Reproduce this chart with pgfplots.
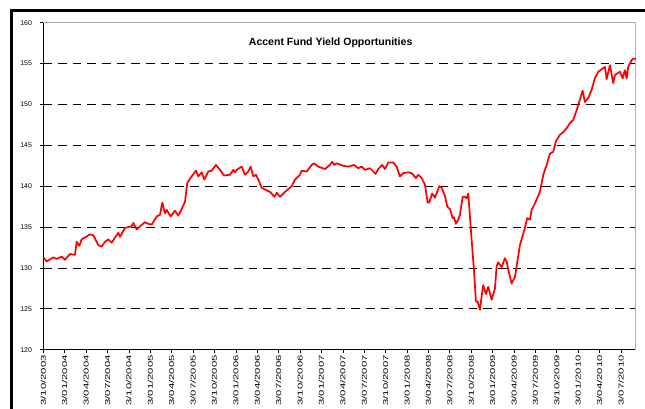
\documentclass[border=0pt]{standalone}
\usepackage{pgfplots}
\pgfplotsset{compat=1.18}
\usepackage{graphicx}
\usepackage{fontspec}
\setmainfont{Liberation Sans}
\newcommand\xl[1]{\scalebox{1.6}[1]{#1}}
\begin{document}
\begin{tikzpicture}
\useasboundingbox (-32.475pt,-43.725pt) rectangle (451.275pt,262.275pt);
\begin{scope}
\clip (-32.475pt,-43.725pt) rectangle (451.275pt,262.275pt);
\draw[line width=2.25pt] (-24.225pt,-60pt) -- (-24.225pt,254.025pt) -- (470pt,254.025pt);
\end{scope}
\begin{axis}[
  at={(0pt,0pt)}, anchor=south west, scale only axis,
  width=444.5pt, height=245.25pt,
  xmin=0, xmax=83.1, ymin=120, ymax=160,
  axis x line*=bottom, axis y line*=left,
  axis line style={-, black, line width=0.6pt},
  xtick={0,3,...,81},
  xticklabels={\xl{3/10/2003},\xl{3/01/2004},\xl{3/04/2004},\xl{3/07/2004},\xl{3/10/2004},\xl{3/01/2005},\xl{3/04/2005},\xl{3/07/2005},\xl{3/10/2005},\xl{3/01/2006},\xl{3/04/2006},\xl{3/07/2006},\xl{3/10/2006},\xl{3/01/2007},\xl{3/04/2007},\xl{3/07/2007},\xl{3/10/2007},\xl{3/01/2008},\xl{3/04/2008},\xl{3/07/2008},\xl{3/10/2008},\xl{3/01/2009},\xl{3/04/2009},\xl{3/07/2009},\xl{3/10/2009},\xl{3/01/2010},\xl{3/04/2010},\xl{3/07/2010}},
  ytick={120,125,...,160},
  extra y ticks={125,130,...,155}, extra y tick labels={},
  extra y tick style={grid=major, major tick length=0pt},
  major grid style={black, line width=0.6pt, dash pattern=on 6.5pt off 4.5pt},
  tick align=outside, major tick length=2.5pt,
  tick style={black, line width=0.5pt},
  yticklabel style={font=\fontsize{5.2}{6}\selectfont, xshift=-2.5pt},
  xticklabel style={rotate=90, anchor=east, font=\fontsize{5.3}{6}\selectfont, inner sep=1.5pt},
  /pgf/number format/assume math mode=true,
]
\draw[gray!70, line width=0.75pt] (rel axis cs:0,1) -- (rel axis cs:1,1);
\draw[gray!60, line width=1.5pt] (rel axis cs:1,1) -- (rel axis cs:1,0);
\addplot[red, line width=1.3pt, line join=round] coordinates {
(0,131.3)(0.48,130.8)(1.40,131.3)(1.88,131.1)(2.58,131.4)(3.04,131.0)(3.74,131.7)(4.44,131.6)
(4.68,133.2)(5.05,132.7)(5.38,133.5)(6.55,134.1)(7.01,134.0)(7.71,132.8)(8.19,132.6)(8.65,133.2)
(9.11,133.5)(9.59,133.1)(10.51,134.3)(10.75,133.8)(11.45,134.9)(12.39,135.1)(12.62,135.5)(13.09,134.7)
(13.56,135.1)(14.26,135.6)(14.72,135.4)(15.20,135.3)(15.90,136.3)(16.36,136.5)(16.68,138.0)(17.06,136.7)
(17.30,137.1)(17.86,136.3)(18.46,137.0)(18.93,136.4)(19.40,137.2)(19.87,138.1)(20.19,140.4)(20.80,141.2)
(21.41,141.9)(21.73,141.2)(22.21,141.7)(22.57,140.8)(23.13,141.8)(23.61,141.9)(24.21,142.6)(24.77,142.0)
(25.33,141.3)(26.17,141.4)(26.64,142.0)(26.87,141.7)(27.11,142.0)(27.81,142.4)(28.28,141.4)(28.74,141.8)
(29.08,142.4)(29.44,141.2)(29.82,141.4)(30.14,140.8)(30.62,139.8)(31.32,139.5)(31.78,139.3)(32.02,139.1)
(32.38,138.7)(32.72,139.2)(33.18,138.7)(33.89,139.3)(34.82,140.0)(35.29,140.8)(35.99,141.4)(36.22,141.9)
(36.93,141.8)(37.63,142.6)(37.95,142.8)(38.55,142.4)(39.49,142.1)(40.19,142.6)(40.52,143.0)(40.80,142.6)
(41.13,142.8)(42.06,142.5)(42.76,142.4)(43.56,142.6)(44.16,142.2)(44.64,142.4)(45.10,142.0)(45.80,142.2)
(46.26,141.8)(46.60,141.5)(46.96,142.1)(47.52,142.6)(47.90,142.1)(48.37,142.9)(49.07,142.9)(49.54,142.4)
(50.00,141.2)(50.47,141.6)(51.17,141.7)(51.64,141.6)(52.25,141.0)(52.57,141.4)(53.05,141.0)(53.51,140.2)
(53.89,138.0)(54.11,138.0)(54.53,139.1)(54.91,138.6)(55.52,140.0)(55.85,139.8)(56.32,138.8)(56.64,137.5)
(57.02,137.2)(57.40,136.1)(57.58,136.2)(57.86,135.4)(58.18,135.9)(58.42,136.5)(58.80,138.7)(59.12,138.7)
(59.36,138.5)(59.58,139.1)(59.72,137.5)(60.06,133.4)(60.38,129.8)(60.66,125.9)(60.90,125.9)(61.22,124.9)
(61.46,126.5)(61.68,127.9)(62.06,126.8)(62.39,127.7)(62.86,126.1)(63.33,127.5)(63.56,130.2)(63.79,130.7)
(64.26,130.1)(64.73,131.2)(64.96,130.8)(65.19,129.8)(65.66,128.1)(66.13,128.9)(66.83,132.8)(67.53,134.9)
(67.85,136.1)(68.23,135.9)(68.47,137.1)(68.93,137.9)(69.63,139.3)(70.10,141.4)(70.57,142.6)(71.04,144.0)
(71.50,144.2)(71.88,145.5)(72.44,146.3)(72.90,146.6)(73.38,147.1)(73.84,147.7)(74.30,148.1)(74.78,149.3)
(75.24,150.6)(75.62,151.7)(75.94,150.3)(76.41,150.8)(76.88,151.8)(77.34,153.2)(77.81,154.0)(78.75,154.6)
(78.98,153.1)(79.45,154.8)(79.91,152.6)(80.15,153.6)(80.85,154.0)(81.23,153.2)(81.55,154.2)(81.79,153.2)
(82.01,154.6)(82.48,155.4)(82.71,155.6)(83.18,155.6)
};
\end{axis}
\node[font=\bfseries\fontsize{7.9}{9}\selectfont] at (215.5pt,230.25pt) {Accent Fund Yield Opportunities};
\end{tikzpicture}
\end{document}
